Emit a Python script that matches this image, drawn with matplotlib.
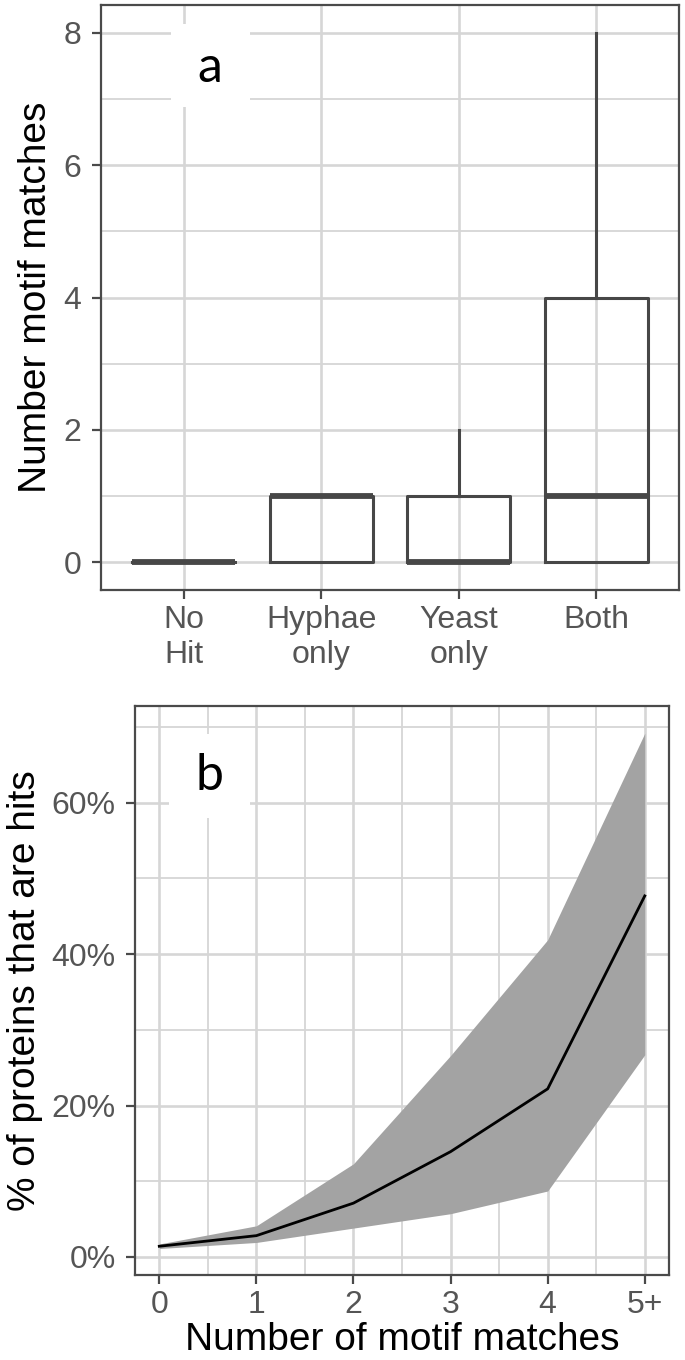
import matplotlib
matplotlib.use("Agg")
import matplotlib.pyplot as plt
from matplotlib.patches import Rectangle
from matplotlib.ticker import FixedLocator, FuncFormatter

plt.rcParams['font.family'] = ['Liberation Sans', 'DejaVu Sans']

# panel a: box summaries per group
groups = ['No\nHit', 'Hyphae\nonly', 'Yeast\nonly', 'Both']
q1 = [0, 0, 0, 0]
med = [0, 1, 0, 1]
q3 = [0, 1, 1, 4]
whislo = [0, 0, 0, 0]
whishi = [0, 1, 2, 8]

# panel b: percent of proteins that are hits with interval
n_matches = [0, 1, 2, 3, 4, 5]
n_labels = ['0', '1', '2', '3', '4', '5+']
pct_hits = [1.4, 2.8, 7.1, 13.9, 22.2, 47.7]
pct_low = [1.1, 1.9, 3.8, 5.7, 8.7, 26.7]
pct_high = [1.7, 4.1, 12.3, 26.6, 41.9, 69.2]

BORDER = '#4a4a4a'
TICKTXT = '#555555'
GRID = '#d6d6d6'


def style_axes(ax):
    for s in ax.spines.values():
        s.set_color(BORDER)
        s.set_linewidth(1.6)
    ax.tick_params(which='major', length=6.5, width=1.6, color=BORDER,
                   labelcolor=TICKTXT, labelsize=23)
    ax.tick_params(axis='x', pad=4)
    ax.tick_params(axis='y', pad=7.5)
    ax.tick_params(which='minor', length=0)
    ax.grid(which='major', color=GRID, lw=1.9, zorder=0)
    ax.grid(which='minor', color=GRID, lw=1.3, zorder=0)
    ax.set_axisbelow(True)


fig = plt.figure(figsize=(6.85, 13.6), dpi=100)

# ---- panel a ----
ax1 = fig.add_axes([0.1474, 0.5662, 0.8438, 0.4301])
stats = []
for i in range(len(groups)):
    stats.append(dict(med=med[i], q1=q1[i], q3=q3[i], whislo=whislo[i],
                      whishi=whishi[i], fliers=[]))
ax1.bxp(stats, positions=range(len(groups)), widths=0.75, showcaps=False,
        boxprops=dict(color='#474747', lw=2.2),
        whiskerprops=dict(color='#474747', lw=2.2),
        medianprops=dict(color='#474747', lw=4.2, solid_capstyle='butt'))
ax1.set_xlim(-0.6, 3.6)
ax1.set_ylim(-0.42, 8.42)
ax1.yaxis.set_major_locator(FixedLocator([0, 2, 4, 6, 8]))
ax1.yaxis.set_minor_locator(FixedLocator([1, 3, 5, 7]))
ax1.set_xticks(range(len(groups)))
ax1.set_xticklabels(groups, linespacing=1.25)
style_axes(ax1)
ax1.set_ylabel('Number motif matches', fontsize=28, color='black')
ax1.yaxis.set_label_coords(-0.081, 0.5)
ax1.add_patch(Rectangle((0.121, 0.826), 0.137, 0.142, transform=ax1.transAxes,
                        facecolor='white', edgecolor='none', zorder=1))
ax1.text(0.189, 0.868, 'a', transform=ax1.transAxes, fontsize=36,
         family=['Lato', 'DejaVu Sans'], ha='center', va='baseline', zorder=5)

# ---- panel b ----
ax2 = fig.add_axes([0.1971, 0.0625, 0.7796, 0.4184])
ax2.fill_between(n_matches, pct_low, pct_high, color='#a3a3a3', lw=0, zorder=2)
ax2.plot(n_matches, pct_hits, color='black', lw=2.0, zorder=3)
ax2.set_xlim(-0.25, 5.25)
ax2.set_ylim(-2.4, 72.8)
ax2.xaxis.set_major_locator(FixedLocator(n_matches))
ax2.xaxis.set_minor_locator(FixedLocator([0.5, 1.5, 2.5, 3.5, 4.5]))
ax2.set_xticklabels(n_labels)
ax2.yaxis.set_major_locator(FixedLocator([0, 20, 40, 60]))
ax2.yaxis.set_minor_locator(FixedLocator([10, 30, 50, 70]))
ax2.yaxis.set_major_formatter(FuncFormatter(lambda v, p: '%d%%' % v))
style_axes(ax2)
ax2.set_ylabel('% of proteins that are hits', fontsize=28, color='black')
ax2.yaxis.set_label_coords(-0.172, 0.5)
ax2.set_xlabel('Number of motif matches', fontsize=28, color='black', labelpad=2)
ax2.add_patch(Rectangle((0.064, 0.803), 0.151, 0.148, transform=ax2.transAxes,
                        facecolor='white', edgecolor='none', zorder=1))
ax2.text(0.1395, 0.853, 'b', transform=ax2.transAxes, fontsize=36,
         family=['Lato', 'DejaVu Sans'], ha='center', va='baseline', zorder=5)

fig.savefig('out.png', dpi=100)
